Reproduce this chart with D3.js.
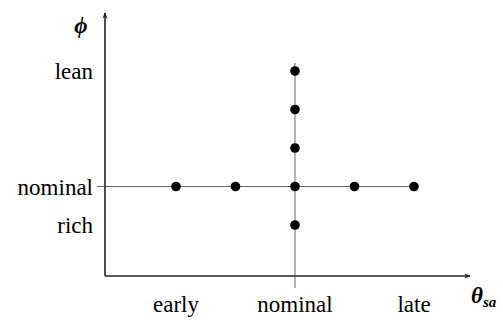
<!DOCTYPE html>
<html>
<head>
<meta charset="utf-8">
<script src="https://cdn.jsdelivr.net/npm/d3@7"></script>
<style>
  body { margin: 0; background: #fff; }
</style>
</head>
<body>
<div id="chart"></div>
<script>
// spark timing (x) vs equivalence ratio (y), coded steps around nominal
var xTicks = [{v: -2, label: "early"}, {v: 0, label: "nominal"}, {v: 2, label: "late"}];
var yTicks = [{v: 3, label: "lean"}, {v: 0, label: "nominal"}, {v: -1, label: "rich"}];

var timingSweep = [-2, -1, 0, 1, 2];   // points along phi = nominal
var phiSweep = [3, 2, 1, 0, -1];       // points along theta = nominal

var width = 503, height = 322;
var serif = "'Liberation Serif', 'DejaVu Serif', serif";

var svg = d3.select("#chart").append("svg")
    .attr("width", width)
    .attr("height", height)
    .attr("font-family", serif);

var x = d3.scaleLinear().domain([-2, 2]).range([176, 414]);
var y = d3.scaleLinear().domain([-1, 3]).range([225, 71]);

// arrow heads
var defs = svg.append("defs");
defs.append("marker")
    .attr("id", "arrow")
    .attr("viewBox", "0 0 10 10")
    .attr("refX", 9).attr("refY", 5)
    .attr("markerWidth", 4).attr("markerHeight", 4)
    .attr("markerUnits", "strokeWidth")
    .attr("orient", "auto")
    .append("path")
    .attr("d", "M0,1 L10,5 L0,9 L3,5 Z")
    .attr("fill", "#222");

var ox = 105, oy = 276;

// guide lines through the nominal point
svg.append("line")
    .attr("x1", 97).attr("x2", x(2))
    .attr("y1", y(0)).attr("y2", y(0))
    .attr("stroke", "#666").attr("stroke-width", 1);
svg.append("line")
    .attr("x1", x(0)).attr("x2", x(0))
    .attr("y1", 63).attr("y2", 288)
    .attr("stroke", "#666").attr("stroke-width", 1);

// axes
svg.append("line")
    .attr("x1", ox).attr("y1", oy)
    .attr("x2", ox).attr("y2", 13)
    .attr("stroke", "#222").attr("stroke-width", 1.6)
    .attr("marker-end", "url(#arrow)");
svg.append("line")
    .attr("x1", ox).attr("y1", oy)
    .attr("x2", 470).attr("y2", oy)
    .attr("stroke", "#222").attr("stroke-width", 1.6)
    .attr("marker-end", "url(#arrow)");

// tick labels
svg.selectAll(".ylab")
    .data(yTicks)
    .enter().append("text")
    .attr("class", "ylab")
    .attr("x", 93)
    .attr("y", function(d) { return y(d.v); })
    .attr("dy", "0.35em")
    .attr("text-anchor", "end")
    .attr("font-family", serif)
    .attr("font-size", 23)
    .text(function(d) { return d.label; });

svg.selectAll(".xlab")
    .data(xTicks)
    .enter().append("text")
    .attr("class", "xlab")
    .attr("x", function(d) { return x(d.v); })
    .attr("y", 312)
    .attr("text-anchor", "middle")
    .attr("font-family", serif)
    .attr("font-size", 23)
    .text(function(d) { return d.label; });

// axis titles
svg.append("text")
    .attr("x", 81).attr("y", 33)
    .attr("text-anchor", "middle")
    .attr("font-family", serif)
    .attr("font-size", 23)
    .attr("font-style", "italic")
    .attr("font-weight", "bold")
    .text("\u03d5");

var th = svg.append("text")
    .attr("x", 471).attr("y", 303)
    .attr("font-family", serif)
    .attr("font-size", 23)
    .attr("font-style", "italic")
    .attr("font-weight", "bold");
th.append("tspan").text("\u03b8");
th.append("tspan")
    .attr("dy", 4)
    .attr("font-size", 15)
    .text("sa");

// test points
var pts = timingSweep.map(function(t) { return {t: t, p: 0}; })
    .concat(phiSweep.filter(function(p) { return p !== 0; })
        .map(function(p) { return {t: 0, p: p}; }));

svg.selectAll(".pt")
    .data(pts)
    .enter().append("circle")
    .attr("class", "pt")
    .attr("cx", function(d) { return x(d.t); })
    .attr("cy", function(d) { return y(d.p); })
    .attr("r", 4.8)
    .attr("fill", "#000");
</script>
</body>
</html>
